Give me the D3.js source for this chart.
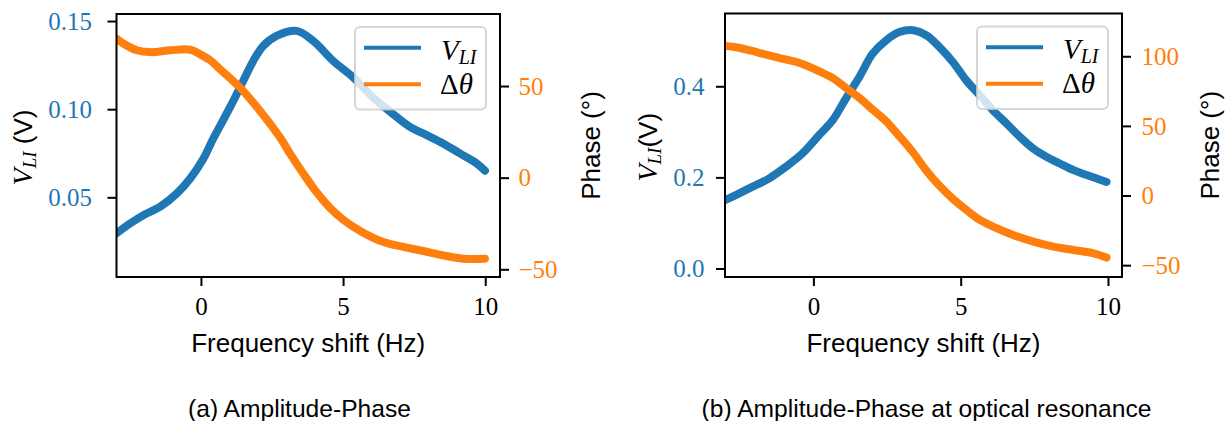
<!DOCTYPE html>
<html><head><meta charset="utf-8">
<script src="https://cdn.jsdelivr.net/npm/d3@7"></script>
<style>html,body{margin:0;padding:0;background:#fff;} svg{display:block;}</style>
</head><body>
<svg id="chart" width="1225" height="421"></svg>
<script>
// ---------- data ----------
const freqA_V = [-2.97,-2.48,-2.01,-1.43,-0.84,-0.37,0.09,0.43,1.02,1.49,1.84,2.19,2.66,3.37,3.95,4.65,5.36,6.06,6.76,7.35,7.94,8.52,9.11,9.70,9.99];
const vliA    = [0.0296,0.0353,0.0400,0.0447,0.0523,0.0608,0.0720,0.0832,0.1010,0.1161,0.1274,0.1359,0.1416,0.1444,0.1387,0.1274,0.1180,0.1066,0.0972,0.0900,0.0853,0.0806,0.0749,0.0692,0.0651];
const freqA_P = [-2.97,-2.72,-2.25,-1.78,-1.08,-0.37,-0.04,0.33,0.67,1.37,2.08,2.78,3.14,3.61,4.07,4.54,5.01,5.71,6.42,7.12,7.82,8.52,9.23,9.99];
const phaseA  = [75.8,73.1,69.5,68.5,69.5,69.8,67.4,64.0,59.2,49.2,36.4,22.0,13.0,2.0,-8.0,-16.5,-23.0,-30.0,-35.1,-37.8,-40.0,-42.4,-44.2,-44.2];

const freqB_V = [-3.0,-2.53,-2.08,-1.51,-0.94,-0.38,0.19,0.65,1.10,1.56,2.01,2.47,2.92,3.38,3.83,4.28,4.74,5.19,5.65,6.10,6.56,7.01,7.47,7.92,8.38,8.83,9.28,9.95];
const vliB    = [0.150,0.1645,0.179,0.1974,0.223,0.252,0.2925,0.325,0.373,0.4205,0.4717,0.501,0.519,0.523,0.512,0.486,0.453,0.413,0.380,0.347,0.318,0.289,0.263,0.245,0.230,0.216,0.205,0.190];
const freqB_P = [-3.0,-2.53,-1.85,-1.17,-0.49,0.19,0.65,1.10,1.56,2.01,2.47,2.92,3.38,3.83,4.28,4.74,5.19,5.65,6.10,6.78,7.47,8.15,8.83,9.51,9.95];
const phaseB  = [107.3,106.1,102.5,98.9,95.3,89.3,84.5,77.3,70.1,61.7,53.3,42.5,31.0,18.0,7.0,-2.5,-10.3,-17.5,-22.3,-28.3,-33.1,-36.7,-39.1,-41.5,-44.5];

const xTicks = [0, 5, 10];
const vTicksA = [0.05, 0.10, 0.15];
const vTickLabelsA = ["0.05", "0.10", "0.15"];
const pTicksA = [-50, 0, 50];
const vTicksB = [0.0, 0.2, 0.4];
const vTickLabelsB = ["0.0", "0.2", "0.4"];
const pTicksB = [-50, 0, 50, 100];
const xLabel = "Frequency shift (Hz)";
const phaseLabel = "Phase (°)";
const legendNames = ["V", "Δθ"];
const captions = ["(a) Amplitude-Phase", "(b) Amplitude-Phase at optical resonance"];

// ---------- layout ----------
const BLUE = "#1f77b4", ORANGE = "#ff7f0e";
const SERIF = "'Liberation Serif', 'DejaVu Serif', serif";
const SANS = "'Liberation Sans', Arial, sans-serif";

const panels = [
  { id: "a", left: 116.5, right: 500, top: 14, bottom: 277,
    xDom: [-2.97, 10.52], vDom: [0.0048, 0.154], pDom: [-54.2, 89.3],
    fV: freqA_V, v: vliA, fP: freqA_P, p: phaseA,
    vTicks: vTicksA, vLabels: vTickLabelsA, pTicks: pTicksA,
    leftPad: 24.5, rightPad: 18.5, yLabelX: 32, yLabelSpace: " ", phaseX: 600,
    caption: captions[0], capX: 299.5 },
  { id: "b", left: 725, right: 1122, top: 13.5, bottom: 277,
    xDom: [-3.0, 10.475], vDom: [-0.0187, 0.5598], pDom: [-58.5, 130.7],
    fV: freqB_V, v: vliB, fP: freqB_P, p: phaseB,
    vTicks: vTicksB, vLabels: vTickLabelsB, pTicks: pTicksB,
    leftPad: 20.5, rightPad: 19.5, yLabelX: 657, yLabelSpace: "", phaseX: 1218.5,
    caption: captions[1], capX: 926.5 }
];

const svg = d3.select("#chart");
const fmtMinus = s => String(s).replace("-", "\u2212");

panels.forEach(P => {
  const x = d3.scaleLinear().domain(P.xDom).range([P.left, P.right]);
  const yV = d3.scaleLinear().domain(P.vDom).range([P.bottom, P.top]);
  const yP = d3.scaleLinear().domain(P.pDom).range([P.bottom, P.top]);
  const W = P.right - P.left, H = P.bottom - P.top;

  svg.append("clipPath").attr("id", "clip-" + P.id)
    .append("rect").attr("x", P.left).attr("y", P.top).attr("width", W).attr("height", H);

  const g = svg.append("g");
  const plot = g.append("g").attr("clip-path", `url(#clip-${P.id})`);

  const curve = d3.curveCatmullRom.alpha(0.5);
  const lineV = d3.line().x((d, i) => x(P.fV[i])).y(d => yV(d)).curve(curve);
  const lineP = d3.line().x((d, i) => x(P.fP[i])).y(d => yP(d)).curve(curve);

  plot.append("path").datum(P.v).attr("d", lineV)
    .attr("fill", "none").attr("stroke", BLUE).attr("stroke-width", 8)
    .attr("stroke-linejoin", "round").attr("stroke-linecap", "round");
  plot.append("path").datum(P.p).attr("d", lineP)
    .attr("fill", "none").attr("stroke", ORANGE).attr("stroke-width", 8)
    .attr("stroke-linejoin", "round").attr("stroke-linecap", "round");

  // axes
  const styleAxis = (sel) => {
    sel.select(".domain").remove();
    sel.selectAll(".tick line").attr("stroke", "#000").attr("stroke-width", 2);
    sel.selectAll(".tick text").attr("font-family", SERIF).attr("font-size", 25);
  };
  const ax = g.append("g").attr("transform", `translate(0,${P.bottom})`)
    .call(d3.axisBottom(x).tickValues(xTicks).tickSize(9).tickFormat(d3.format("d")));
  styleAxis(ax);
  ax.selectAll(".tick text").attr("fill", "#000").attr("dy", null).attr("y", 38);

  const al = g.append("g").attr("transform", `translate(${P.left},0)`)
    .call(d3.axisLeft(yV).tickValues(P.vTicks).tickSize(9).tickFormat((d, i) => P.vLabels[i]));
  styleAxis(al);
  al.selectAll(".tick text").attr("fill", BLUE).attr("x", -P.leftPad).attr("dy", "0.33em");

  const ar = g.append("g").attr("transform", `translate(${P.right},0)`)
    .call(d3.axisRight(yP).tickValues(P.pTicks).tickSize(9).tickFormat(d => fmtMinus(d)));
  styleAxis(ar);
  ar.selectAll(".tick text").attr("fill", ORANGE).attr("x", P.rightPad).attr("dy", "0.33em");

  // frame
  g.append("rect").attr("x", P.left).attr("y", P.top).attr("width", W).attr("height", H)
    .attr("fill", "none").attr("stroke", "#000").attr("stroke-width", 2);

  // x label
  g.append("text").attr("x", (P.left + P.right) / 2).attr("y", 351.7)
    .attr("text-anchor", "middle").attr("font-family", SANS).attr("font-size", 26)
    .attr("fill", "#000").text(xLabel);

  // left y label
  const cy = (P.top + P.bottom) / 2 + 2;
  const yl = g.append("text").attr("transform", `translate(${P.yLabelX},${cy}) rotate(-90)`)
    .attr("text-anchor", "middle").attr("fill", "#000");
  yl.append("tspan").attr("font-family", SERIF).attr("font-style", "italic").attr("font-size", 28).text("V");
  yl.append("tspan").attr("font-family", SERIF).attr("font-style", "italic").attr("font-size", 19)
    .attr("dy", 4).text("LI");
  yl.append("tspan").attr("font-family", SANS).attr("font-size", 26).attr("dy", -4).text(P.yLabelSpace + "(V)");

  // right y label
  g.append("text").attr("transform", `translate(${P.phaseX},${(P.top + P.bottom) / 2}) rotate(-90)`)
    .attr("text-anchor", "middle").attr("font-family", SANS).attr("font-size", 26)
    .attr("fill", "#000").text(phaseLabel);

  // legend
  const bx = P.right - 14 - 131, by = P.top + 13;
  const lg = g.append("g");
  lg.append("rect").attr("x", bx).attr("y", by).attr("width", 131).attr("height", 82.5)
    .attr("rx", 5).attr("fill", "#fff").attr("fill-opacity", 0.8)
    .attr("stroke", "#cccccc").attr("stroke-opacity", 0.8).attr("stroke-width", 2);
  [[BLUE, 20.7], [ORANGE, 57.3]].forEach(([c, dy]) => {
    lg.append("line").attr("x1", bx + 9).attr("x2", bx + 66).attr("y1", by + dy).attr("y2", by + dy)
      .attr("stroke", c).attr("stroke-width", 4);
  });
  const t1 = lg.append("text").attr("x", bx + 86).attr("y", by + 32.5).attr("fill", "#000")
    .attr("font-family", SERIF).attr("font-style", "italic");
  t1.append("tspan").attr("font-size", 29).text(legendNames[0]);
  t1.append("tspan").attr("font-size", 20).attr("dy", 4).text("LI");
  const t2 = lg.append("text").attr("x", bx + 85).attr("y", by + 66.5).attr("fill", "#000")
    .attr("font-family", SERIF).attr("font-size", 29);
  t2.append("tspan").text(legendNames[1].charAt(0));
  t2.append("tspan").attr("font-style", "italic").text(legendNames[1].charAt(1));

  // caption
  g.append("text").attr("x", P.capX).attr("y", 416.7).attr("text-anchor", "middle")
    .attr("font-family", SANS).attr("font-size", 24.6).attr("fill", "#000").text(P.caption);
});
</script>
</body></html>
